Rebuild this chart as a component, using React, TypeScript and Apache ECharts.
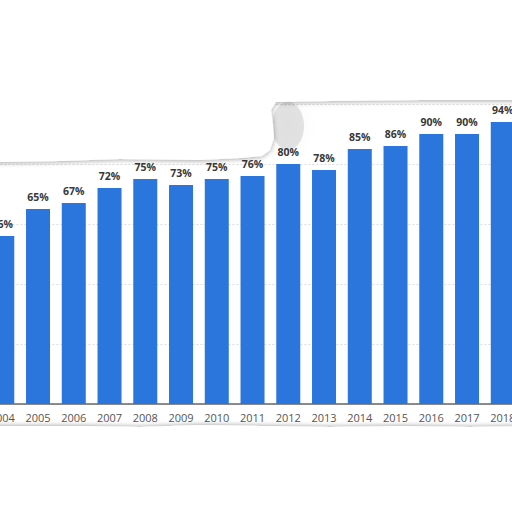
import React, { useEffect, useRef } from "react";
import * as echarts from "echarts";

const years = ["2004", "2005", "2006", "2007", "2008", "2009", "2010", "2011", "2012", "2013", "2014", "2015", "2016", "2017", "2018"];
const shares = [56, 65, 67, 72, 75, 73, 75, 76, 80, 78, 85, 86, 90, 90, 94];
const yTicks = { min: 0, max: 100, interval: 20 };

const OX = 16; // container is shifted left by OX px

export default function App() {
  const ref = useRef<HTMLDivElement>(null);
  useEffect(() => {
    if (!ref.current) return;
    const chart = echarts.init(ref.current, null, { renderer: "svg" });
    const pts = (arr: number[][]) => arr.map(([x, y]) => [x + OX, y]);
    chart.setOption({
      animation: false,
      backgroundColor: "#ffffff",
      grid: { left: 0.4, width: 536.25, top: 104, bottom: 108, containLabel: false },
      xAxis: {
        type: "category",
        data: years,
        axisLine: { lineStyle: { color: "#666666", width: 1.5 } },
        axisTick: { show: false },
        axisLabel: { color: "#555555", fontSize: 11, fontFamily: "Open Sans", margin: 8, interval: 0 },
      },
      yAxis: {
        type: "value",
        min: yTicks.min,
        max: yTicks.max,
        interval: yTicks.interval,
        axisLabel: { show: false },
        axisLine: { show: false },
        axisTick: { show: false },
        splitLine: { lineStyle: { color: "#dddddd", type: [2, 2] } },
      },
      series: [
        {
          type: "bar",
          data: shares,
          barWidth: 24,
          itemStyle: { color: "#2a76dc" },
          label: {
            show: true,
            position: "top",
            distance: 7,
            formatter: "{c}%",
            color: "#383838",
            fontWeight: "bold",
            fontSize: 10.5,
            fontFamily: "Open Sans",
          },
        },
      ],
      graphic: [
        {
          type: "ellipse",
          z: 99,
          shape: { cx: 288 + OX, cy: 126, rx: 16, ry: 24 },
          style: { fill: "rgba(0,0,0,0.10)", shadowColor: "rgba(0,0,0,0.25)", shadowBlur: 14 },
        },
        {
          type: "polygon",
          z: 100,
          shape: {
            points: pts([
              [-30, -10], [530, -10], [530, 100], [420, 100], [330, 101], [276, 102],
              [271, 110], [273, 124], [274, 138], [270, 150], [262, 156], [240, 158], [200, 160], [120, 159],
              [60, 161], [0, 162], [-30, 162],
            ]),
          },
          style: { fill: "#ffffff", shadowColor: "rgba(0,0,0,0.35)", shadowBlur: 5, shadowOffsetY: 1 },
        },
        {
          type: "polygon",
          z: 100,
          shape: {
            points: pts([
              [-30, 426], [80, 426], [140, 427], [200, 425], [260, 426], [330, 427], [400, 426],
              [470, 427], [530, 426], [530, 522], [-30, 522],
            ]),
          },
          style: { fill: "#ffffff", shadowColor: "rgba(0,0,0,0.3)", shadowBlur: 4, shadowOffsetY: -1 },
        },
      ],
    });
    return () => chart.dispose();
  }, []);
  return <div ref={ref} style={{ position: "fixed", left: -OX, top: 0, width: 544, height: 512 }} />;
}
